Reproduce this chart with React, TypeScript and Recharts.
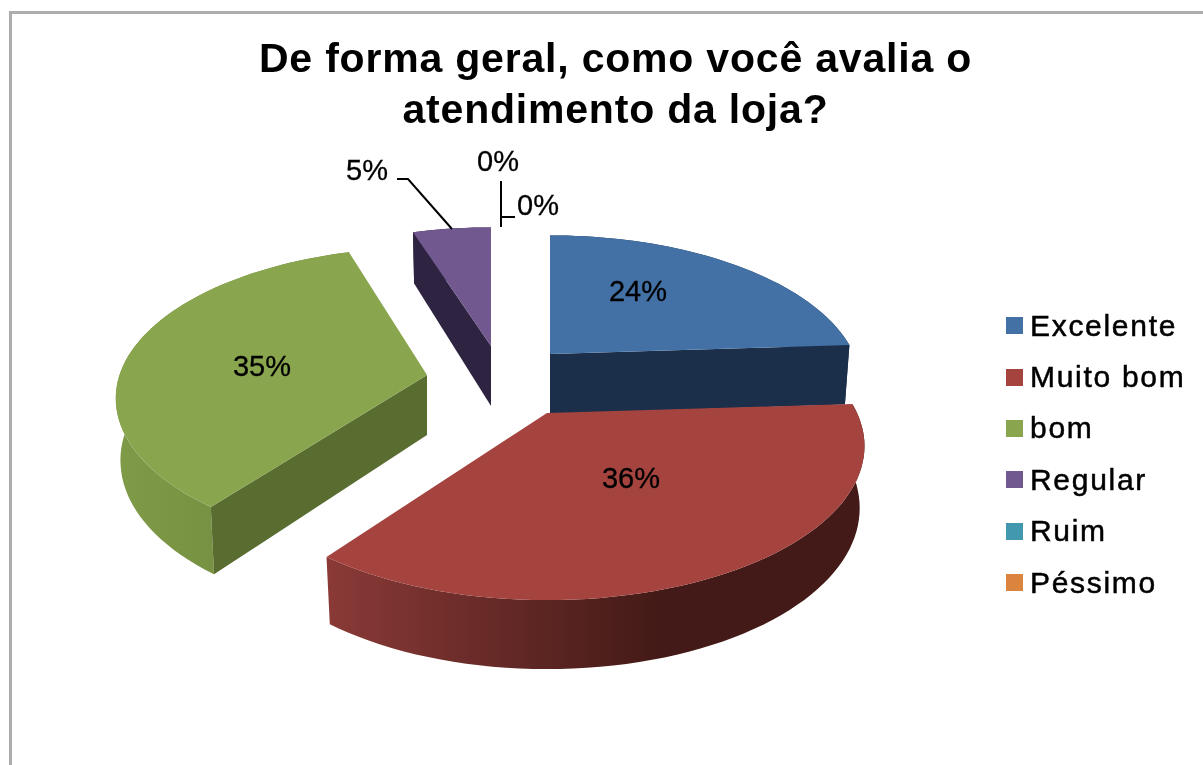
import { PieChart, Pie, Legend } from 'recharts';

const categories = ['Excelente', 'Muito bom', 'bom', 'Regular', 'Ruim', 'Péssimo'];
const percents = [24, 36, 35, 5, 0, 0];
const colors = ['#4371a6', '#a5433f', '#89a54e', '#71588f', '#4198af', '#db843d'];
const wallColors = ['#1b2f4b', '#4a1c19', '#5a6d31', '#2e2340', '#1f4a56', '#6e421e'];
const rimStops = [
  ['#1b2f4b', '#1b2f4b'],
  ['#8a3a37', '#431a17'],
  ['#7f9b48', '#6b8539'],
  ['#2e2340', '#2e2340'],
  ['#1f4a56', '#1f4a56'],
  ['#6e421e', '#6e421e'],
];
const titleLines = ['De forma geral, como você avalia o', 'atendimento da loja?'];

// exploded slices: shift of each apex from the pie centre, radius factor, arc lift
const explode = [
  { dx: 60, dy: -21, r: 1, lift: 0 },
  { dx: 57, dy: 38, r: 1.02, lift: 0 },
  { dx: -63, dy: 0, r: 1, lift: -9 },
  { dx: 1, dy: -29, r: 1, lift: 0 },
  { dx: 0, dy: 0, r: 1, lift: 0 },
  { dx: 0, dy: 0, r: 1, lift: 0 },
];
const labelPos = [
  [638, 291],
  [631, 478],
  [262, 366],
  [367, 170],
  [498, 161],
  [538, 205],
];
const leaders = ['', '', '', '397,179 408,179 452,229', '501,181 501,227', '501,217 515,217'];

const PIE_CX = 490;
const PIE_CY = 375;
const PIE_R = 304;
const PERSP = 0.2145;
const FLAT = 0.474;
const DEPTH = 60;

const rows = categories.map((name, i) => ({ name, value: percents[i], fill: colors[i] }));

type Pt = { x: number; y: number; v: number };

function project(deg: number, cx: number, cy: number, a: number): Pt {
  const t = (deg * Math.PI) / 180;
  const u = Math.cos(t);
  const v = -Math.sin(t);
  const w = 1 - PERSP * v;
  return { x: cx + (a * u) / w, y: cy + (a * FLAT * v) / w, v };
}

function drop(p: Pt, cx: number): Pt {
  return { x: cx + (p.x - cx) * 0.985, y: p.y + DEPTH + 9 * p.v, v: p.v };
}

const toPath = (pts: { x: number; y: number }[]) =>
  'M' + pts.map(p => `${p.x.toFixed(1)},${p.y.toFixed(1)}`).join('L') + 'Z';

// a straight side only shows if the top face sits above its edge
function wallShows(apex: Pt, edge: Pt, mid: Pt) {
  if (Math.abs(edge.x - apex.x) < 5) return false;
  const lineY = apex.y + ((edge.y - apex.y) * (mid.x - apex.x)) / (edge.x - apex.x);
  return mid.y < lineY;
}

function Slice(props: any) {
  const { cx, cy, outerRadius, startAngle, endAngle, index, fill } = props;
  if (Math.abs(endAngle - startAngle) < 0.01) return null;
  const ex = explode[index];
  const ax = cx + ex.dx;
  const ay = cy + ex.dy;
  const a = outerRadius * ex.r;
  const steps = Math.ceil(Math.abs(endAngle - startAngle) / 2);
  const arc: Pt[] = [];
  for (let s = 0; s <= steps; s++) {
    arc.push(project(startAngle + ((endAngle - startAngle) * s) / steps, ax, ay + ex.lift, a));
  }
  const apex: Pt = { x: ax, y: ay, v: 0 };
  const lowArc = arc.map(p => drop(p, ax));
  const lowApex = drop(apex, ax);
  const first = arc[0];
  const last = arc[arc.length - 1];
  const mid = arc[Math.floor(arc.length / 2)];
  const rim = [...arc, ...[...lowArc].reverse()];
  const gid = `rim-${index}`;
  return (
    <g>
      <defs>
        <linearGradient id={gid} x1="0" y1="0" x2="1" y2="0">
          <stop offset="0%" stopColor={rimStops[index][0]} />
          <stop offset={index === 1 ? '62%' : '100%'} stopColor={rimStops[index][1]} />
        </linearGradient>
      </defs>
      <path d={toPath(rim)} fill={`url(#${gid})`} />
      {wallShows(apex, first, mid) && <path d={toPath([apex, first, lowArc[0], lowApex])} fill={wallColors[index]} />}
      {wallShows(apex, last, mid) && (
        <path d={toPath([apex, last, lowArc[lowArc.length - 1], lowApex])} fill={wallColors[index]} />
      )}
      <path d={toPath([apex, ...arc])} fill={fill} />
    </g>
  );
}

function SliceLabel(props: any) {
  const { index, value } = props;
  const [x, y] = labelPos[index];
  return (
    <g>
      {leaders[index] ? <polyline points={leaders[index]} fill="none" stroke="#000" strokeWidth={2} /> : null}
      <text
        x={x}
        y={y}
        textAnchor="middle"
        dominantBaseline="central"
        fontFamily="'Liberation Sans'"
        fontSize={29}
        stroke="#000"
        strokeWidth={0.3}
        fill="#000"
      >
        {value}%
      </text>
    </g>
  );
}

function LegendList(props: any) {
  return (
    <div>
      {(props.payload || []).map((e: any) => (
        <div key={e.value} style={{ height: 51.4, display: 'flex', alignItems: 'center' }}>
          <span style={{ width: 17, height: 17, background: e.color, marginRight: 7 }} />
          <span
            style={{
              fontFamily: "'Liberation Sans'",
              fontSize: 30,
              letterSpacing: 1.7,
              WebkitTextStroke: '0.5px #000',
              color: '#000',
              whiteSpace: 'nowrap',
            }}
          >
            {e.value}
          </span>
        </div>
      ))}
    </div>
  );
}

export default function App() {
  return (
    <div
      style={{
        position: 'absolute',
        left: 0,
        top: 0,
        width: 1203,
        height: 765,
        overflow: 'hidden',
        background: '#fff',
        filter: 'blur(0.5px)',
      }}
    >
      <div style={{ position: 'absolute', left: 9, top: 11, width: 1400, height: 1000, border: '3px solid #adadad' }} />
      <div
        style={{
          position: 'absolute',
          left: 0,
          top: 33,
          width: 1231,
          textAlign: 'center',
          fontFamily: "'Liberation Sans'",
          fontWeight: 700,
          fontSize: 41,
          letterSpacing: 0.8,
          lineHeight: '51px',
          color: '#000',
        }}
      >
        {titleLines.map(t => (
          <div key={t}>{t}</div>
        ))}
      </div>
      <div style={{ position: 'absolute', left: 0, top: 0 }}>
        <PieChart width={1203} height={765} margin={{ top: 0, right: 0, bottom: 0, left: 0 }}>
          <Pie
            data={rows}
            dataKey="value"
            nameKey="name"
            cx={PIE_CX}
            cy={PIE_CY}
            outerRadius={PIE_R}
            startAngle={90}
            endAngle={-270}
            stroke="none"
            shape={Slice}
            label={SliceLabel}
            labelLine={false}
            isAnimationActive={false}
          />
          <Legend
            layout="vertical"
            itemSorter={null}
            content={LegendList}
            wrapperStyle={{ left: 1006, top: 300, width: 197, bottom: 'auto', right: 'auto' }}
          />
        </PieChart>
      </div>
    </div>
  );
}
